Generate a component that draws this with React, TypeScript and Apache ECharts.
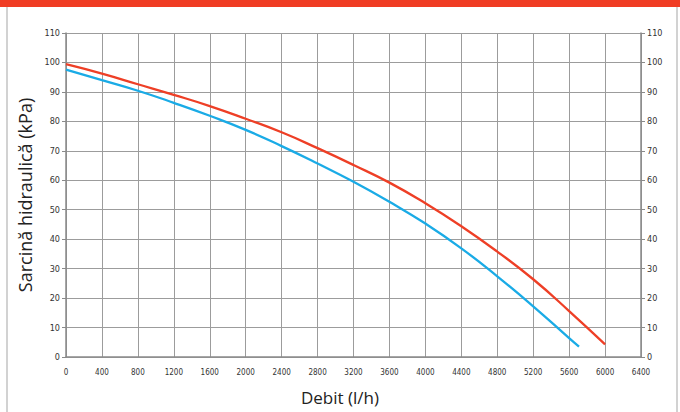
import React, { useEffect, useRef } from "react";
import * as echarts from "echarts";

const redFlow = [0, 400, 800, 1200, 1600, 2000, 2400, 2800, 3200, 3600, 4000, 4400, 4800, 5200, 5600, 6000];
const redHead = [99.4, 96.2, 92.6, 89.0, 85.2, 80.9, 76.3, 70.9, 65.2, 59.2, 52.2, 44.4, 35.8, 26.4, 15.6, 4.3];
const blueFlow = [0, 400, 800, 1200, 1600, 2000, 2400, 2800, 3200, 3600, 4000, 4400, 4800, 5200, 5600, 5710];
const blueHead = [97.6, 94.0, 90.4, 86.3, 81.9, 77.1, 71.6, 65.7, 59.5, 52.7, 45.3, 36.9, 27.4, 17.2, 6.4, 3.5];

const xTitle = "Debit (l/h)";
const yTitle = "Sarcină hidraulică (kPa)";

export default function App() {
  const ref = useRef<HTMLDivElement>(null);
  useEffect(() => {
    if (!ref.current) return;
    const chart = echarts.init(ref.current, null, { renderer: "svg" });
    const tickFont = "'Liberation Sans Narrow', 'DejaVu Sans Condensed', sans-serif";
    const gridColor = "#9c9c9c";
    const yBase = {
      type: "value",
      min: 0,
      max: 110,
      interval: 10,
      axisLine: { show: true, lineStyle: { color: "#8a8a8a", width: 1.5 } },
      axisTick: { show: true, length: 4, lineStyle: { color: "#8a8a8a" } },
      axisLabel: { color: "#333", fontSize: 9, fontFamily: tickFont, margin: 6 },
    };
    chart.setOption({
      animation: false,
      backgroundColor: "#ffffff",
      grid: { left: 66, right: 39, top: 33, bottom: 55, containLabel: false },
      xAxis: {
        type: "value",
        min: 0,
        max: 6400,
        interval: 400,
        name: xTitle,
        nameLocation: "middle",
        nameGap: 32,
        nameTextStyle: { fontSize: 17, color: "#222", fontFamily: "'Open Sans', sans-serif", padding: [0, 27, 0, 0] },
        axisLine: { show: true, lineStyle: { color: "#8a8a8a", width: 1.5 } },
        axisTick: { show: false },
        axisLabel: {
          color: "#333",
          fontSize: 8,
          fontFamily: tickFont,
          margin: 11,
          formatter: (v: number) => String(v),
        },
        splitLine: { show: true, lineStyle: { color: gridColor, width: 1 } },
      },
      yAxis: [
        {
          ...yBase,
          position: "left",
          name: yTitle,
          nameLocation: "middle",
          nameGap: 25,
          nameTextStyle: { fontSize: 18, color: "#222", fontFamily: "'Open Sans', sans-serif" },
          splitLine: { show: true, lineStyle: { color: gridColor, width: 1 } },
        },
        {
          ...yBase,
          position: "right",
          splitLine: { show: false },
        },
      ],
      series: [
        {
          name: "Curba roșie",
          type: "line",
          smooth: 0.5,
          symbol: "none",
          lineStyle: { color: "#ee3f26", width: 2.3 },
          data: redFlow.map((f, i) => [f, redHead[i]]),
        },
        {
          name: "Curba albastră",
          type: "line",
          smooth: 0.5,
          symbol: "none",
          lineStyle: { color: "#1aabe6", width: 2.3 },
          data: blueFlow.map((f, i) => [f, blueHead[i]]),
        },
      ],
      graphic: [
        { type: "rect", left: 0, top: 0, shape: { width: 680, height: 7 }, style: { fill: "#f03c24" }, silent: true },
        { type: "rect", left: 6, top: 7, shape: { width: 2, height: 405 }, style: { fill: "#d2d2d2" }, silent: true },
        { type: "rect", left: 676, top: 7, shape: { width: 2, height: 405 }, style: { fill: "#d2d2d2" }, silent: true },
      ],
    });
    return () => chart.dispose();
  }, []);
  return (
    <div
      ref={ref}
      style={{ position: "fixed", left: 0, top: 0, width: 680, height: 412, background: "#fff" }}
    />
  );
}
